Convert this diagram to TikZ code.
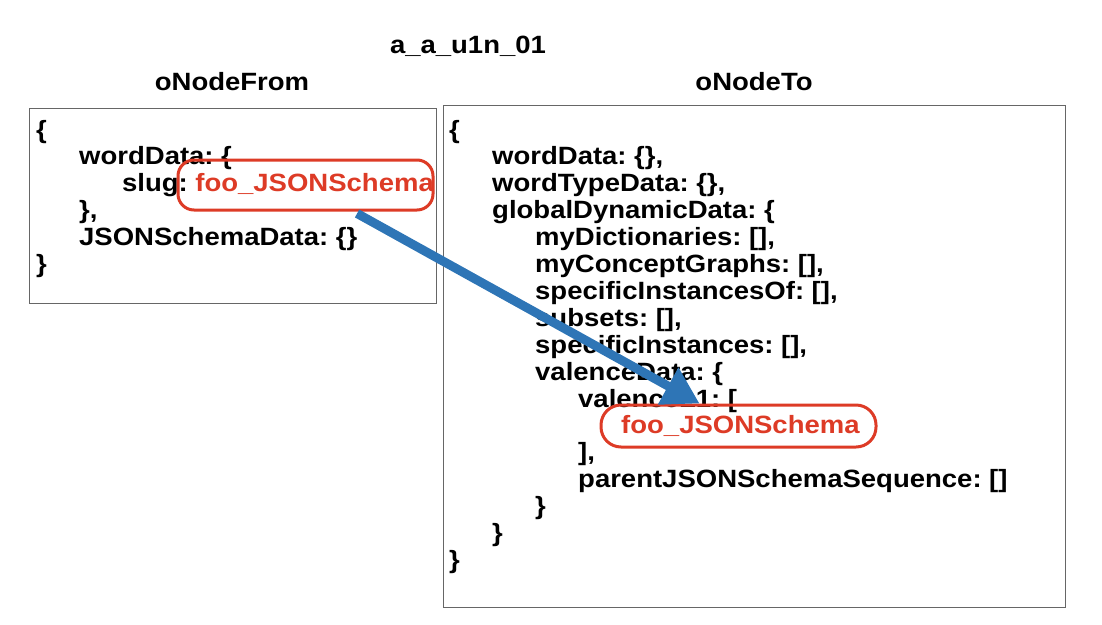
\documentclass[tikz,border=0pt]{standalone}
\usepackage{fontspec}
\setmainfont{Liberation Sans}[FakeStretch=1.1,WordSpace=0.65]
\usetikzlibrary{calc,arrows.meta}
\definecolor{hired}{HTML}{DD3B26}
\definecolor{arrowblue}{HTML}{2E75B6}
\definecolor{framegray}{HTML}{666666}
\tikzset{
  txt/.style={anchor=base west,inner sep=0pt,font=\fontsize{25}{27}\selectfont\bfseries},
  title/.style={anchor=base,inner sep=0pt,font=\fontsize{25}{27}\selectfont\bfseries},
  frame/.style={draw=framegray,line width=1pt,inner sep=0pt},
  hibox/.style={draw=hired,line width=3pt,rounded corners=16pt,inner sep=0pt},
  bigarrow/.style={draw=arrowblue,line width=9pt,-{Triangle[length=36pt,width=40pt]}}
}
\begin{document}
\begin{tikzpicture}[x=1pt,y=-1pt]
\useasboundingbox (0,0) rectangle (1102,624);
% titles
\node[title] (ttl) at (468,53) {a\_a\_u1n\_01};
\node[title] (tfrom) at (232,90) {oNodeFrom};
\node[title] (tto) at (754,90) {oNodeTo};
% frames
\node[frame,minimum width=407pt,minimum height=195pt] (fromframe) at (232.5,205.5) {};
\node[frame,minimum width=622pt,minimum height=502pt] (toframe) at (754,356) {};
% left code
\node[txt] (l0) at (36,138) {\{};
\node[txt] (l1) at (79,164.9) {wordData: \{};
\node[txt] (l2) at (122,191.8) {slug: \textcolor{hired}{foo\_JSONSchema}};
\node[txt] (l3) at (79,218.7) {\},};
\node[txt] (l4) at (79,245.6) {JSONSchemaData: \{\}};
\node[txt] (l5) at (36,272.5) {\}};
% right code
\node[txt] (r0) at (449,138) {\{};
\node[txt] (r1) at (492,164.9) {wordData: \{\},};
\node[txt] (r2) at (492,191.8) {wordTypeData: \{\},};
\node[txt] (r3) at (492,218.7) {globalDynamicData: \{};
\node[txt] (r4) at (535,245.6) {myDictionaries: [],};
\node[txt] (r5) at (535,272.5) {myConceptGraphs: [],};
\node[txt] (r6) at (535,299.4) {specificInstancesOf: [],};
\node[txt] (r7) at (535,326.3) {subsets: [],};
\node[txt] (r8) at (535,353.2) {specificInstances: [],};
\node[txt] (r9) at (535,380.1) {valenceData: \{};
\node[txt] (r10) at (578,407) {valenceL1: [};
\node[txt,text=hired] (r11) at (621,433.9) {foo\_JSONSchema};
\node[txt] (r12) at (578,460.8) {],};
\node[txt] (r13) at (578,487.7) {parentJSONSchemaSequence: []};
\node[txt] (r14) at (535,514.6) {\}};
\node[txt] (r15) at (492,541.5) {\}};
\node[txt] (r16) at (449,568.4) {\}};
% highlight boxes
\node[hibox,minimum width=255pt,minimum height=50pt] (lred) at (305.5,185) {};
\node[hibox,rounded corners=20pt,minimum width=275pt,minimum height=42pt] (rred) at (738.5,426) {};
% arrow
\draw[bigarrow] ($(lred.south west)!0.70!(lred.south east)+(0,2)$) -- ($(rred.north west)!0.36!(rred.north east)$);
\end{tikzpicture}
\end{document}
